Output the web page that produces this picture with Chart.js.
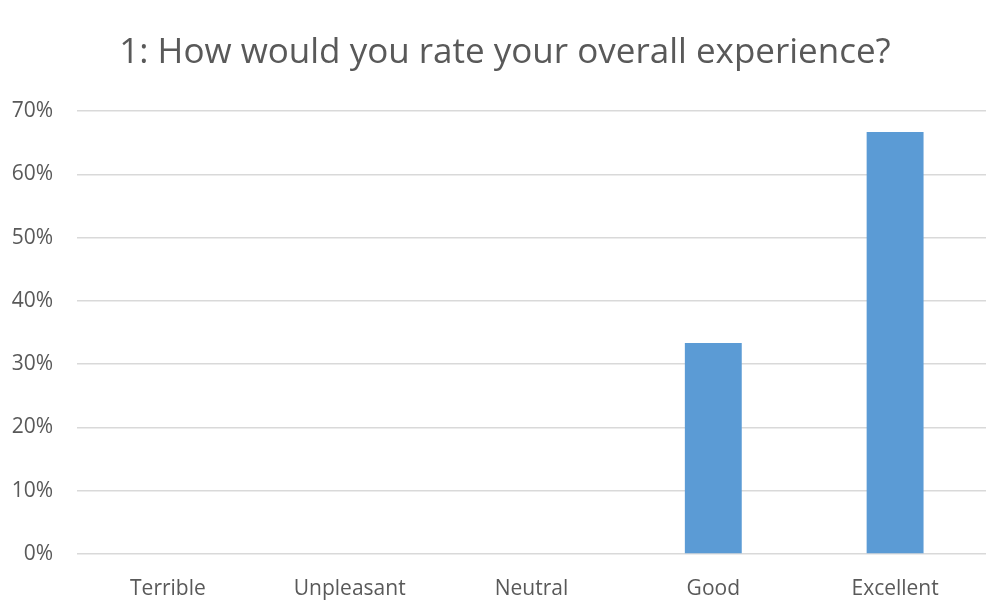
<!DOCTYPE html>
<html>
<head>
<meta charset="utf-8">
<style>
  html, body { margin: 0; padding: 0; background: #fff; }
  #wrap { width: 998px; height: 601px; }
</style>
<script src="https://cdn.jsdelivr.net/npm/chart.js@4/dist/chart.umd.min.js"></script>
</head>
<body>
<div id="wrap"><canvas id="ratingChart" width="998" height="601"></canvas></div>
<script>
const categories = ['Terrible', 'Unpleasant', 'Neutral', 'Good', 'Excellent'];
const shares = [0, 0, 0, 33.33, 66.67];
const tickValues = [0, 10, 20, 30, 40, 50, 60, 70];

const textGray = '#595959';
const fontFamily = "'Open Sans', 'Noto Sans', sans-serif";
const ctx = document.getElementById('ratingChart').getContext('2d');

// nudge the title box a bit right so it sits over the plot rather than the canvas
const titleShift = {
  id: 'titleShift',
  afterLayout(chart) {
    if (chart.titleBlock) chart.titleBlock.left += 24;
  }
};

new Chart(ctx, {
  type: 'bar',
  data: {
    labels: categories,
    datasets: [{
      data: shares,
      backgroundColor: '#5b9bd5',
      categoryPercentage: 1,
      barPercentage: 0.313
    }]
  },
  options: {
    responsive: false,
    animation: false,
    layout: { padding: { left: 0, right: 12, top: 0, bottom: 0 } },
    plugins: {
      legend: { display: false },
      tooltip: { enabled: false },
      title: {
        display: true,
        text: '1: How would you rate your overall experience?',
        color: textGray,
        font: { family: fontFamily, size: 35, weight: 'normal' },
        padding: { top: 32, bottom: 37 }
      }
    },
    scales: {
      x: {
        grid: { display: false },
        border: { display: false },
        ticks: {
          color: textGray,
          font: { family: fontFamily, size: 21 },
          padding: 14
        },
        afterFit: axis => { axis.height = 47; }
      },
      y: {
        min: 0,
        max: 70,
        afterBuildTicks: axis => { axis.ticks = tickValues.map(v => ({ value: v })); },
        grid: { color: '#d9d9d9', lineWidth: 1.5, drawTicks: false },
        border: { display: false },
        ticks: {
          color: textGray,
          font: { family: fontFamily, size: 21 },
          padding: 24,
          callback: v => v + '%'
        },
        afterFit: axis => { axis.width = 77; }
      }
    }
  },
  plugins: [titleShift]
});
</script>
</body>
</html>
